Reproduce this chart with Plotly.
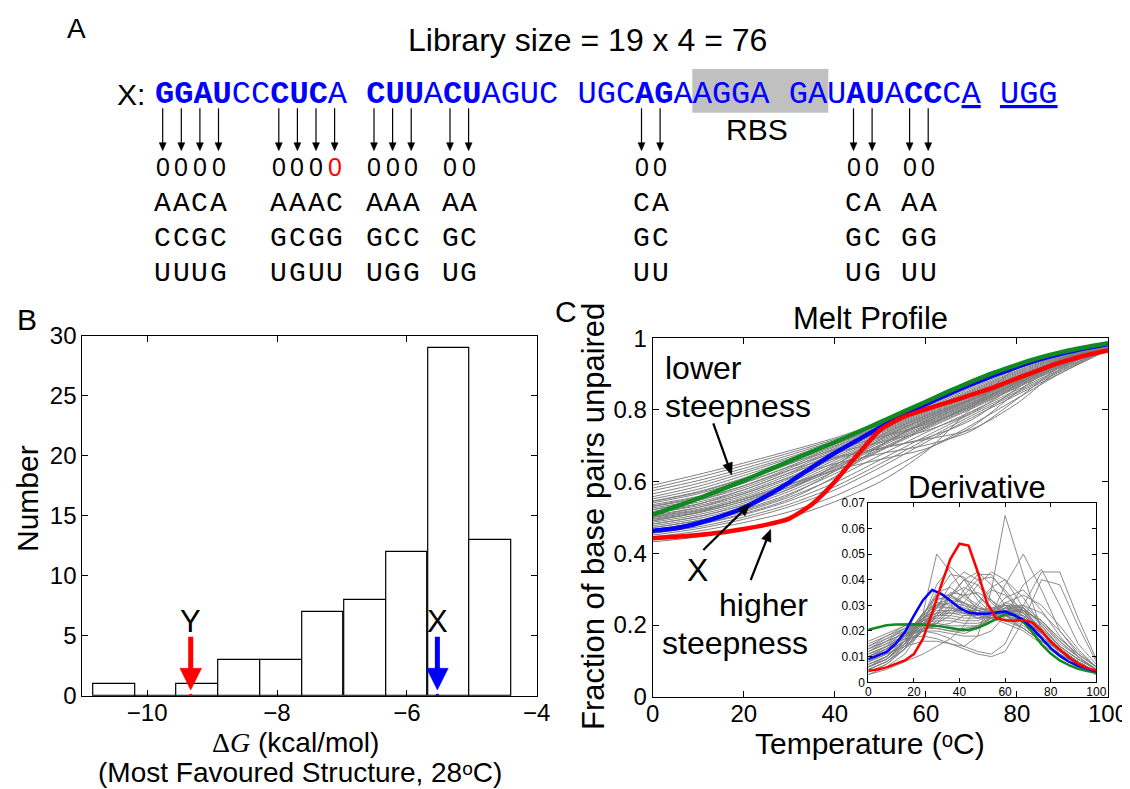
import math
import plotly.graph_objects as go

W, H = 1130, 789          # target picture size
OFF = 8                   # page body margin of the browser
FW, FH = W - OFF, H - OFF # figure size so that the page fits the window
SANS = "Liberation Sans, DejaVu Sans, Arial, Helvetica, sans-serif"
MONO = "Liberation Mono, Courier New, monospace"
SERIF = "Liberation Serif, Times New Roman, serif"

# ---------------- Panel A data ----------------
library_label = "Library size = 19 x 4 = 76"
sequence_segments = [("GGAU", "b"), ("CC", ""), ("CUC", "b"), ("A ", ""), ("CUU", "b"), ("A", ""),
                     ("CU", "b"), ("AGUC UGC", ""), ("AG", "b"), ("AAGGA GAU", ""), ("AU", "b"),
                     ("A", ""), ("CC", "b"), ("C", ""), ("A", "u"), (" ", ""), ("UGG", "u")]
variant_rows = [
    ["0000", "0000", "000", "00", "00", "00", "00"],
    ["AACA", "AAAC", "AAA", "AA", "CA", "CA", "AA"],
    ["CCGC", "GCGG", "GCC", "GC", "GC", "GC", "GG"],
    ["UUUG", "UGUU", "UGG", "UG", "UU", "UG", "UU"],
]
red_variant = (1, 3)  # (group, position) of the red 0

# ---------------- Panel B data ----------------
dg_bin_centers = [-10.51, -9.87, -9.23, -8.585, -7.94, -7.295, -6.645, -6.00, -5.355, -4.71]
dg_counts = [1, 0, 1, 3, 3, 7, 8, 12, 29, 13]
dg_bin_width = 0.644
dG_X = -5.53
dG_Y = -9.33

# ---------------- Panel C data ----------------
melt_temps = [0, 10, 20, 30, 40, 50, 60, 70, 80, 90, 100]
melt_gray = [
    [0.590, 0.620, 0.652, 0.686, 0.722, 0.766, 0.815, 0.868, 0.922, 0.962, 0.986],
    [0.582, 0.612, 0.645, 0.680, 0.718, 0.762, 0.810, 0.864, 0.918, 0.960, 0.985],
    [0.575, 0.603, 0.637, 0.674, 0.714, 0.758, 0.806, 0.860, 0.914, 0.958, 0.984],
    [0.566, 0.595, 0.630, 0.668, 0.710, 0.754, 0.802, 0.856, 0.910, 0.955, 0.983],
    [0.558, 0.587, 0.624, 0.664, 0.707, 0.752, 0.800, 0.853, 0.907, 0.953, 0.982],
    [0.552, 0.579, 0.617, 0.659, 0.704, 0.750, 0.798, 0.850, 0.904, 0.951, 0.982],
    [0.546, 0.572, 0.610, 0.654, 0.700, 0.747, 0.795, 0.847, 0.901, 0.949, 0.981],
    [0.541, 0.566, 0.604, 0.649, 0.697, 0.744, 0.792, 0.844, 0.898, 0.947, 0.980],
    [0.536, 0.559, 0.596, 0.643, 0.693, 0.741, 0.789, 0.841, 0.895, 0.945, 0.980],
    [0.531, 0.553, 0.589, 0.637, 0.689, 0.738, 0.786, 0.838, 0.892, 0.943, 0.979],
    [0.527, 0.548, 0.583, 0.631, 0.685, 0.735, 0.783, 0.835, 0.890, 0.941, 0.978],
    [0.522, 0.543, 0.577, 0.625, 0.680, 0.731, 0.780, 0.832, 0.887, 0.939, 0.978],
    [0.517, 0.538, 0.571, 0.619, 0.675, 0.727, 0.777, 0.829, 0.884, 0.937, 0.977],
    [0.512, 0.533, 0.566, 0.613, 0.670, 0.724, 0.774, 0.826, 0.882, 0.935, 0.977],
    [0.507, 0.528, 0.561, 0.608, 0.665, 0.720, 0.771, 0.823, 0.879, 0.933, 0.976],
    [0.502, 0.523, 0.556, 0.602, 0.660, 0.716, 0.767, 0.820, 0.876, 0.931, 0.976],
    [0.497, 0.518, 0.551, 0.597, 0.654, 0.712, 0.764, 0.817, 0.874, 0.929, 0.975],
    [0.492, 0.513, 0.546, 0.591, 0.648, 0.708, 0.761, 0.814, 0.871, 0.927, 0.975],
    [0.487, 0.508, 0.540, 0.585, 0.642, 0.703, 0.757, 0.811, 0.869, 0.926, 0.974],
    [0.482, 0.503, 0.535, 0.579, 0.636, 0.698, 0.754, 0.809, 0.867, 0.924, 0.974],
    [0.477, 0.497, 0.529, 0.573, 0.629, 0.692, 0.750, 0.806, 0.864, 0.922, 0.973],
    [0.472, 0.492, 0.523, 0.566, 0.622, 0.686, 0.746, 0.803, 0.862, 0.920, 0.973],
    [0.467, 0.486, 0.516, 0.557, 0.610, 0.674, 0.737, 0.796, 0.856, 0.916, 0.971],
    [0.461, 0.480, 0.508, 0.546, 0.597, 0.661, 0.727, 0.790, 0.851, 0.913, 0.970],
    [0.456, 0.474, 0.501, 0.537, 0.586, 0.650, 0.718, 0.784, 0.847, 0.910, 0.969],
    [0.451, 0.469, 0.495, 0.530, 0.577, 0.640, 0.710, 0.778, 0.842, 0.906, 0.968],
    [0.522, 0.548, 0.588, 0.632, 0.668, 0.694, 0.718, 0.746, 0.818, 0.918, 0.975],
    [0.503, 0.528, 0.567, 0.611, 0.650, 0.678, 0.702, 0.742, 0.830, 0.925, 0.976],
    [0.490, 0.515, 0.552, 0.593, 0.632, 0.662, 0.692, 0.752, 0.850, 0.934, 0.977],
    [0.512, 0.537, 0.577, 0.624, 0.664, 0.692, 0.722, 0.772, 0.860, 0.940, 0.978],
    [0.532, 0.557, 0.596, 0.641, 0.680, 0.710, 0.742, 0.792, 0.870, 0.944, 0.979],
    [0.545, 0.570, 0.608, 0.650, 0.690, 0.724, 0.760, 0.810, 0.878, 0.946, 0.980],
    [0.472, 0.491, 0.520, 0.562, 0.630, 0.718, 0.778, 0.828, 0.880, 0.934, 0.975],
    [0.482, 0.502, 0.535, 0.580, 0.645, 0.728, 0.784, 0.830, 0.884, 0.935, 0.976],
    [0.462, 0.481, 0.511, 0.551, 0.614, 0.700, 0.766, 0.820, 0.875, 0.930, 0.974],
    [0.500, 0.520, 0.551, 0.590, 0.640, 0.702, 0.770, 0.828, 0.884, 0.935, 0.977],
    [0.495, 0.514, 0.545, 0.585, 0.632, 0.688, 0.752, 0.815, 0.876, 0.932, 0.976],
    [0.432, 0.446, 0.468, 0.500, 0.544, 0.600, 0.684, 0.805, 0.918, 0.962, 0.980],
    [0.446, 0.462, 0.486, 0.516, 0.560, 0.620, 0.688, 0.758, 0.832, 0.905, 0.967],
]
melt_temps_fine = [0, 5, 10, 15, 20, 25, 30, 35, 40, 45, 50, 55, 60, 65, 70, 75, 80, 85, 90, 95, 100]
melt_green = [0.508, 0.530, 0.553, 0.578, 0.603, 0.630, 0.657, 0.684, 0.710, 0.738, 0.766,
              0.795, 0.823, 0.852, 0.879, 0.904, 0.926, 0.946, 0.962, 0.975, 0.986]
melt_X = [0.463, 0.470, 0.484, 0.503, 0.527, 0.560, 0.598, 0.640, 0.680, 0.716, 0.752,
          0.786, 0.816, 0.845, 0.872, 0.897, 0.920, 0.941, 0.958, 0.972, 0.984]
melt_Y = [0.442, 0.446, 0.451, 0.458, 0.468, 0.480, 0.497, 0.537, 0.600, 0.675, 0.745,
          0.780, 0.802, 0.822, 0.842, 0.864, 0.888, 0.912, 0.934, 0.952, 0.966]

deriv_temps = [0, 8, 16, 24, 30, 36, 42, 48, 54, 60, 68, 76, 84, 92, 100]
deriv_gray = [
    [0.004, 0.007, 0.013, 0.022, 0.030, 0.033, 0.031, 0.028, 0.026, 0.027, 0.025, 0.019, 0.013, 0.008, 0.004],
    [0.005, 0.008, 0.014, 0.024, 0.032, 0.034, 0.031, 0.027, 0.025, 0.026, 0.024, 0.018, 0.012, 0.008, 0.004],
    [0.006, 0.009, 0.016, 0.026, 0.034, 0.034, 0.030, 0.026, 0.025, 0.027, 0.026, 0.019, 0.013, 0.008, 0.004],
    [0.007, 0.010, 0.017, 0.027, 0.033, 0.032, 0.028, 0.025, 0.025, 0.028, 0.027, 0.020, 0.013, 0.008, 0.004],
    [0.008, 0.011, 0.018, 0.027, 0.031, 0.030, 0.027, 0.025, 0.026, 0.029, 0.028, 0.021, 0.014, 0.009, 0.005],
    [0.009, 0.012, 0.019, 0.026, 0.030, 0.029, 0.027, 0.026, 0.027, 0.029, 0.027, 0.020, 0.013, 0.008, 0.004],
    [0.010, 0.013, 0.019, 0.025, 0.028, 0.028, 0.027, 0.026, 0.027, 0.030, 0.028, 0.021, 0.014, 0.009, 0.005],
    [0.011, 0.014, 0.020, 0.025, 0.027, 0.027, 0.026, 0.026, 0.028, 0.031, 0.029, 0.022, 0.014, 0.009, 0.005],
    [0.012, 0.015, 0.020, 0.024, 0.026, 0.026, 0.025, 0.025, 0.027, 0.030, 0.029, 0.023, 0.015, 0.010, 0.005],
    [0.013, 0.016, 0.021, 0.024, 0.025, 0.025, 0.024, 0.024, 0.026, 0.029, 0.029, 0.023, 0.016, 0.010, 0.005],
    [0.014, 0.017, 0.021, 0.023, 0.024, 0.024, 0.023, 0.023, 0.025, 0.028, 0.028, 0.024, 0.017, 0.011, 0.006],
    [0.015, 0.018, 0.022, 0.023, 0.023, 0.022, 0.022, 0.022, 0.024, 0.027, 0.028, 0.024, 0.017, 0.011, 0.006],
    [0.006, 0.009, 0.015, 0.023, 0.029, 0.031, 0.030, 0.028, 0.027, 0.028, 0.026, 0.020, 0.013, 0.008, 0.004],
    [0.007, 0.010, 0.016, 0.024, 0.030, 0.031, 0.029, 0.027, 0.026, 0.027, 0.025, 0.019, 0.012, 0.008, 0.004],
    [0.008, 0.012, 0.018, 0.025, 0.029, 0.029, 0.028, 0.027, 0.027, 0.028, 0.026, 0.020, 0.013, 0.008, 0.004],
    [0.009, 0.013, 0.018, 0.024, 0.027, 0.028, 0.028, 0.028, 0.029, 0.030, 0.027, 0.020, 0.013, 0.008, 0.004],
    [0.005, 0.008, 0.013, 0.020, 0.027, 0.034, 0.037, 0.034, 0.029, 0.026, 0.023, 0.018, 0.012, 0.008, 0.004],
    [0.006, 0.009, 0.014, 0.020, 0.026, 0.034, 0.040, 0.038, 0.031, 0.026, 0.022, 0.017, 0.012, 0.007, 0.004],
    [0.005, 0.008, 0.013, 0.021, 0.029, 0.038, 0.043, 0.040, 0.032, 0.026, 0.021, 0.016, 0.011, 0.007, 0.004],
    [0.006, 0.009, 0.015, 0.024, 0.034, 0.042, 0.041, 0.034, 0.028, 0.025, 0.021, 0.016, 0.011, 0.007, 0.004],
    [0.004, 0.007, 0.013, 0.027, 0.050, 0.043, 0.035, 0.028, 0.025, 0.023, 0.020, 0.015, 0.010, 0.006, 0.003],
    [0.006, 0.009, 0.015, 0.025, 0.038, 0.045, 0.040, 0.032, 0.027, 0.024, 0.021, 0.016, 0.011, 0.007, 0.004],
    [0.008, 0.011, 0.015, 0.020, 0.026, 0.033, 0.040, 0.043, 0.038, 0.030, 0.023, 0.017, 0.012, 0.007, 0.004],
    [0.009, 0.012, 0.016, 0.020, 0.024, 0.029, 0.036, 0.042, 0.042, 0.035, 0.025, 0.018, 0.012, 0.008, 0.004],
    [0.010, 0.013, 0.017, 0.021, 0.023, 0.026, 0.031, 0.038, 0.043, 0.040, 0.029, 0.020, 0.013, 0.008, 0.004],
    [0.011, 0.014, 0.018, 0.021, 0.022, 0.023, 0.026, 0.031, 0.037, 0.040, 0.033, 0.022, 0.014, 0.009, 0.005],
    [0.012, 0.015, 0.018, 0.020, 0.020, 0.019, 0.018, 0.018, 0.020, 0.026, 0.038, 0.044, 0.030, 0.015, 0.007],
    [0.012, 0.016, 0.019, 0.020, 0.019, 0.017, 0.014, 0.012, 0.011, 0.015, 0.030, 0.043, 0.043, 0.025, 0.009],
    [0.010, 0.014, 0.017, 0.018, 0.017, 0.015, 0.013, 0.011, 0.010, 0.012, 0.024, 0.040, 0.038, 0.022, 0.008],
    [0.013, 0.017, 0.020, 0.022, 0.022, 0.021, 0.020, 0.021, 0.026, 0.038, 0.050, 0.036, 0.020, 0.011, 0.006],
    [0.008, 0.011, 0.014, 0.016, 0.016, 0.015, 0.014, 0.018, 0.036, 0.065, 0.042, 0.020, 0.011, 0.007, 0.004],
    [0.014, 0.018, 0.021, 0.022, 0.021, 0.020, 0.019, 0.021, 0.025, 0.031, 0.034, 0.030, 0.022, 0.013, 0.006],
    [0.016, 0.019, 0.022, 0.023, 0.022, 0.021, 0.021, 0.022, 0.025, 0.028, 0.030, 0.027, 0.020, 0.012, 0.006],
    [0.003, 0.006, 0.011, 0.021, 0.030, 0.035, 0.034, 0.030, 0.027, 0.026, 0.024, 0.018, 0.012, 0.007, 0.003],
    [0.007, 0.010, 0.016, 0.025, 0.031, 0.032, 0.031, 0.029, 0.028, 0.027, 0.024, 0.019, 0.013, 0.008, 0.004],
    [0.010, 0.013, 0.018, 0.023, 0.026, 0.027, 0.027, 0.027, 0.028, 0.030, 0.030, 0.024, 0.016, 0.010, 0.005],
    [0.011, 0.014, 0.018, 0.022, 0.025, 0.030, 0.034, 0.035, 0.032, 0.028, 0.024, 0.019, 0.013, 0.008, 0.004],
    [0.013, 0.016, 0.019, 0.021, 0.021, 0.020, 0.020, 0.022, 0.027, 0.033, 0.036, 0.028, 0.018, 0.010, 0.005],
    [0.009, 0.012, 0.016, 0.020, 0.023, 0.028, 0.034, 0.040, 0.041, 0.036, 0.027, 0.019, 0.013, 0.008, 0.004],
    [0.006, 0.010, 0.016, 0.026, 0.035, 0.037, 0.033, 0.029, 0.027, 0.027, 0.025, 0.019, 0.012, 0.008, 0.004],
    [0.003, 0.005, 0.008, 0.011, 0.014, 0.017, 0.022, 0.030, 0.036, 0.034, 0.028, 0.020, 0.013, 0.008, 0.004],
]
deriv_temps_fine = [0, 4, 8, 12, 16, 20, 24, 28, 32, 36, 40, 44, 48, 52, 56, 60, 64, 68, 72, 76, 80, 84, 88, 92, 96, 100]
deriv_Y = [0.0045, 0.0050, 0.0058, 0.0070, 0.0085, 0.0110, 0.0170, 0.0270, 0.0380, 0.0480, 0.0540, 0.0533, 0.0430,
           0.0310, 0.0250, 0.0242, 0.0240, 0.0243, 0.0233, 0.0200, 0.0160, 0.0128, 0.0097, 0.0072, 0.0055, 0.0046]
deriv_X = [0.0090, 0.0105, 0.0118, 0.0150, 0.0195, 0.0260, 0.0320, 0.0360, 0.0345, 0.0318, 0.0290, 0.0272, 0.0267,
           0.0267, 0.0272, 0.0276, 0.0262, 0.0243, 0.0210, 0.0172, 0.0133, 0.0103, 0.0080, 0.0064, 0.0052, 0.0042]
deriv_green = [0.0205, 0.0215, 0.0222, 0.0225, 0.0226, 0.0226, 0.0225, 0.0222, 0.0218, 0.0212, 0.0206, 0.0204, 0.0212,
               0.0228, 0.0248, 0.0265, 0.0262, 0.0235, 0.0195, 0.0148, 0.0112, 0.0085, 0.0067, 0.0053, 0.0044, 0.0038]

# ---------------- helpers ----------------
def P(x, y):
    """Window pixel -> paper coordinates of the figure (which sits at OFF,OFF)."""
    return (x - OFF) / FW, 1 - (y - OFF) / FH


def dom_x(a, b):
    return [P(a, 0)[0], P(b, 0)[0]]


def dom_y(top, bottom):
    return [P(0, bottom)[1], P(0, top)[1]]


annotations = []
shapes = []


def add_text(s, x, y, size, color="black", family=SANS, xa="center", ya="middle", angle=0):
    px_, py_ = P(x, y)
    annotations.append(dict(text=s, x=px_, y=py_, xref="paper", yref="paper", showarrow=False,
                            font=dict(size=size, color=color, family=family),
                            xanchor=xa, yanchor=ya, textangle=angle))


def add_arrow(xt, yt, xh, yh, color="black", width=1.2, head_len=8.0, head_w=7.0):
    """Arrow drawn as a line plus a filled triangular head, in window pixels."""
    dx, dy = xh - xt, yh - yt
    L = math.hypot(dx, dy)
    ux, uy = dx / L, dy / L
    bx, by = xh - ux * (head_len - 0.5), yh - uy * (head_len - 0.5)
    a0, b0 = P(xt, yt)
    a1, b1 = P(bx, by)
    shapes.append(dict(type="line", xref="paper", yref="paper", x0=a0, y0=b0, x1=a1, y1=b1,
                       line=dict(color=color, width=width)))
    cx, cy = xh - ux * head_len, yh - uy * head_len
    nx, ny = -uy * head_w / 2, ux * head_w / 2
    pts = [P(xh, yh), P(cx + nx, cy + ny), P(cx - nx, cy - ny)]
    path = "M {:.5f},{:.5f} L {:.5f},{:.5f} L {:.5f},{:.5f} Z".format(*pts[0], *pts[1], *pts[2])
    shapes.append(dict(type="path", xref="paper", yref="paper", path=path,
                       fillcolor=color, line=dict(color=color, width=0.5)))


fig = go.Figure()

# ---------------- Panel B: histogram ----------------
fig.add_trace(go.Bar(x=dg_bin_centers, y=dg_counts, width=dg_bin_width,
                     marker=dict(color="white", line=dict(color="black", width=1.2)),
                     xaxis="x", yaxis="y"))
fig.add_trace(go.Scatter(x=[dG_Y], y=[0], mode="markers", marker=dict(color="red", size=4),
                         xaxis="x", yaxis="y"))
fig.add_trace(go.Scatter(x=[dG_X], y=[0], mode="markers", marker=dict(color="blue", size=4),
                         xaxis="x", yaxis="y"))
head_half_w = 0.167   # data units (x) of half the arrow head width
head_h = 1.81         # data units (y) of arrow head length
for xv, col, lab in [(dG_Y, "red", "Y"), (dG_X, "blue", "X")]:
    shapes.append(dict(type="line", xref="x", yref="y", x0=xv, y0=4.92, x1=xv, y1=2.2,
                       line=dict(color=col, width=5)))
    shapes.append(dict(type="path", xref="x", yref="y",
                       path=f"M {xv - head_half_w},{0.48 + head_h} L {xv + head_half_w},{0.48 + head_h} L {xv},0.48 Z",
                       fillcolor=col, line=dict(color=col, width=0.5)))
    annotations.append(dict(text=lab, x=xv, y=6.2, xref="x", yref="y", showarrow=False,
                            font=dict(size=31, family=SANS, color="black"),
                            xanchor="center", yanchor="middle"))

# ---------------- Panel C: melt profile ----------------
for curve in melt_gray:
    fig.add_trace(go.Scatter(x=melt_temps, y=curve, mode="lines",
                             line=dict(color="#7f7f7f", width=1, shape="spline", smoothing=0.8),
                             xaxis="x2", yaxis="y2"))
for ys, col in [(melt_X, "blue"), (melt_Y, "red"), (melt_green, "#118a22")]:
    fig.add_trace(go.Scatter(x=melt_temps_fine, y=ys, mode="lines",
                             line=dict(color=col, width=4.5, shape="spline", smoothing=0.6),
                             xaxis="x2", yaxis="y2"))

# ---------------- Inset: derivative ----------------
for curve in deriv_gray:
    fig.add_trace(go.Scatter(x=deriv_temps, y=curve, mode="lines",
                             line=dict(color="#7f7f7f", width=0.9),
                             xaxis="x3", yaxis="y3"))
for ys, col in [(deriv_green, "#118a22"), (deriv_X, "blue"), (deriv_Y, "red")]:
    fig.add_trace(go.Scatter(x=deriv_temps_fine, y=ys, mode="lines",
                             line=dict(color=col, width=2.5),
                             xaxis="x3", yaxis="y3"))

# ---------------- Panel A: text ----------------
add_text("A", 76, 28, 28)
add_text(library_label, 587, 40, 32)
add_text("X:", 131, 94, 30)
seq_html = ""
for seg, style in sequence_segments:
    seq_html += f"<{style}>{seg}</{style}>" if style else seg
px0, py0 = P(153.3, 94)
annotations.append(dict(text=seq_html, x=px0, y=py0, xref="paper", yref="paper", showarrow=False,
                        font=dict(size=32, color="#0000ff", family=MONO), xanchor="left", yanchor="middle"))
x0, y0 = P(692.3, 69)
x1, y1 = P(828.3, 112.7)
shapes.append(dict(type="rect", xref="paper", yref="paper", x0=x0, y0=y0, x1=x1, y1=y1,
                   fillcolor="#c0c0c0", line=dict(width=0), layer="below"))
add_text("RBS", 756.7, 130, 30)

group_x0 = [162.7, 278.8, 374.0, 450.0, 641.5, 853.5, 909.6]
pitch = 18.6
row_y = [166.7, 203.3, 238.3, 273.3]
for g, gx in enumerate(group_x0):
    for i in range(len(variant_rows[0][g])):
        cx = gx + i * pitch
        add_arrow(cx, 108.3, cx, 150.7, width=1.2, head_len=8, head_w=7)
        for r, ry in enumerate(row_y):
            ch = variant_rows[r][g][i]
            if r == 0:
                col = "red" if (g, i) == red_variant else "black"
                add_text(ch, cx, ry, 25, color=col, family=SANS)
            else:
                add_text(ch, cx, ry, 28, family=MONO)

# ---------------- Panel labels / axis titles ----------------
add_text("B", 27, 319, 30)
add_text("C", 566, 311, 30)
add_text("Number", 27, 499, 30, angle=-90)
add_text(f"<span style=\"font-family:{SERIF}\">Δ<i>G</i></span> (kcal/mol)", 295, 742, 28)
add_text("(Most Favoured Structure, 28ᵒC)", 300, 772.5, 28)
add_text("Melt Profile", 870, 318, 31)
add_text("Fraction of base pairs unpaired", 593, 517, 31, angle=-90)
add_text("Temperature (ᵒC)", 870, 743, 30)
add_text("Derivative", 977, 487, 31)
add_text("lower", 663, 368, 32, xa="left")
add_text("steepness", 663, 406, 32, xa="left")
add_text("X", 697, 570, 32)
add_text("higher", 810, 605, 32, xa="right")
add_text("steepness", 810, 643, 32, xa="right")
add_arrow(713.3, 423.3, 731.7, 475, width=2.2, head_len=12, head_w=10)
add_arrow(703.3, 550, 750, 504, width=2.2, head_len=12, head_w=10)
add_arrow(750.7, 580, 770.7, 529.3, width=2.2, head_len=12, head_w=10)

# ---------------- Axes ----------------
def axis_style(fs=24, tl=6, standoff=0):
    return dict(showline=True, linecolor="black", linewidth=1, mirror="ticks", ticks="inside",
                ticklen=tl, tickcolor="black", tickwidth=1, showgrid=False, zeroline=False,
                automargin=False, ticklabelstandoff=standoff,
                tickfont=dict(family=SANS, size=fs, color="black"), fixedrange=True)

fig.update_layout(
    template="none",
    font=dict(family=SANS, color="black"),
    width=FW, height=FH, margin=dict(l=0, r=0, t=0, b=0, pad=0), autosize=False,
    paper_bgcolor="white", plot_bgcolor="white", showlegend=False,
    xaxis=dict(domain=dom_x(82.3, 536.7), range=[-11, -4], tickvals=[-10, -8, -6, -4], anchor="y",
               **axis_style(standoff=-5)),
    yaxis=dict(domain=dom_y(336, 695.7), range=[0, 30], tickvals=[0, 5, 10, 15, 20, 25, 30],
               anchor="x", **axis_style()),
    xaxis2=dict(domain=dom_x(652.7, 1108), range=[0, 100], tick0=0, dtick=20, anchor="y2",
                **axis_style(standoff=-5)),
    yaxis2=dict(domain=dom_y(338.3, 696.7), range=[0, 1], tick0=0, dtick=0.2, anchor="x2",
                **axis_style()),
    xaxis3=dict(domain=dom_x(868.3, 1096.3), range=[0, 100], tick0=0, dtick=20, anchor="y3",
                **axis_style(12, 4, -2)),
    yaxis3=dict(domain=dom_y(502.7, 682.3), range=[0, 0.07], tick0=0, dtick=0.01, anchor="x3",
                **axis_style(12, 4)),
    annotations=annotations, shapes=shapes, bargap=0,
)

fig.write_html("out.html")
